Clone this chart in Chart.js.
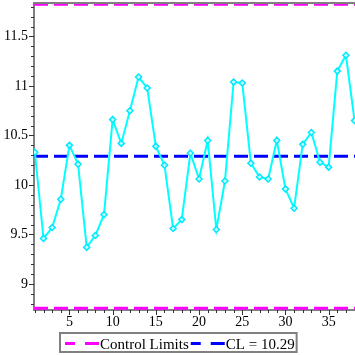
<!DOCTYPE html>
<html lang="en">
<head>
<meta charset="UTF-8">
<title>Control Chart</title>
<script src="https://cdn.jsdelivr.net/npm/chart.js"></script>
<style>
  html, body { margin: 0; padding: 0; background: #fff; }
</style>
</head>
<body>
<canvas id="chart" width="355" height="355"></canvas>
<script>
// sample number and measured value
const samples = [1, 2, 3, 4, 5, 6, 7, 8, 9, 10, 11, 12, 13, 14, 15, 16, 17, 18, 19, 20,
                 21, 22, 23, 24, 25, 26, 27, 28, 29, 30, 31, 32, 33, 34, 35, 36, 37, 38];
const values = [10.33, 9.46, 9.57, 9.855, 10.40, 10.21, 9.37, 9.49, 9.70, 10.66,
                10.42, 10.75, 11.09, 10.98, 10.39, 10.20, 9.56, 9.65, 10.32, 10.06,
                10.45, 9.55, 10.04, 11.04, 11.03, 10.22, 10.08, 10.06, 10.45, 9.96,
                9.765, 10.41, 10.53, 10.23, 10.18, 11.15, 11.31, 10.65];
const centerLine = 10.29;
const upperLimit = 11.825;
const lowerLimit = 8.755;
const yTicks = [9, 9.5, 10, 10.5, 11, 11.5];
const xTicks = [5, 10, 15, 20, 25, 30, 35];
const legendLabels = ['Control Limits', 'CL = 10.29'];

const X_MIN = 0.9, X_MAX = 38.05;
const Y_MIN = 8.737, Y_MAX = 11.838;
const FONT = '"Liberation Serif", "Times New Roman", serif';

function hline(v) {
  return [{ x: X_MIN, y: v }, { x: X_MAX, y: v }];
}

// no automatic label padding, the plot area is fixed
function noPad(s) {
  s.paddingTop = 0; s.paddingBottom = 0; s.paddingLeft = 0; s.paddingRight = 0;
}

// frame, minor ticks and the boxed legend (Maple style)
const frame = {
  id: 'frame',
  afterDraw(chart) {
    const { ctx, chartArea: a, scales: { x, y } } = chart;
    ctx.save();
    ctx.strokeStyle = '#808080';
    ctx.lineWidth = 2;
    ctx.beginPath();
    ctx.moveTo(a.left - 1, a.top);
    ctx.lineTo(a.right, a.top);
    ctx.stroke();

    ctx.strokeStyle = '#333';
    ctx.lineWidth = 1;
    ctx.beginPath();
    for (let i = 88; i <= 118; i++) {
      const py = Math.round(y.getPixelForValue(i / 10)) + 0.5;
      const len = i % 5 === 0 ? 5 : 3;
      ctx.moveTo(a.left - len, py);
      ctx.lineTo(a.left, py);
    }
    for (let i = 1; i <= 38; i++) {
      const px = Math.round(x.getPixelForValue(i)) + 0.5;
      const len = i % 5 === 0 ? 5 : 3;
      ctx.moveTo(px, a.bottom);
      ctx.lineTo(px, a.bottom + len);
    }
    ctx.stroke();

    // legend
    ctx.font = '15px ' + FONT;
    const w1 = ctx.measureText(legendLabels[0]).width;
    const w2 = ctx.measureText(legendLabels[1]).width;
    const seg = 34;
    const total = 5 + seg + 1 + w1 + 2 + seg + 1 + w2 + 2;
    const lx = Math.round(178 - total / 2);
    const top = 333, h = 19, my = 343.5;
    ctx.strokeStyle = '#808080';
    ctx.lineWidth = 2;
    ctx.strokeRect(lx, top, total, h);

    ctx.lineWidth = 3;
    ctx.setLineDash([10, 10, 20]);
    let cx = lx + 5;
    ctx.strokeStyle = '#FF00FF';
    ctx.beginPath(); ctx.moveTo(cx, my); ctx.lineTo(cx + seg, my); ctx.stroke();
    cx += seg + 1;
    ctx.setLineDash([]);
    ctx.fillStyle = '#000';
    ctx.textBaseline = 'alphabetic';
    ctx.fillText(legendLabels[0], cx, 348.5);
    cx += w1 + 2;
    ctx.setLineDash([10, 10, 20]);
    ctx.strokeStyle = '#0000FF';
    ctx.beginPath(); ctx.moveTo(cx, my); ctx.lineTo(cx + seg, my); ctx.stroke();
    cx += seg + 1;
    ctx.setLineDash([]);
    ctx.fillText(legendLabels[1], cx, 348.5);
    ctx.restore();
  }
};

new Chart(document.getElementById('chart'), {
  type: 'line',
  data: {
    datasets: [
      {
        data: samples.map((s, i) => ({ x: s, y: values[i] })),
        borderColor: '#00FFFF',
        borderWidth: 2,
        pointStyle: 'rectRot',
        pointRadius: 3,
        pointBorderWidth: 1.5,
        pointBorderColor: '#00E8FF',
        pointBackgroundColor: '#C8FFFF',
        tension: 0
      },
      {
        data: hline(upperLimit),
        borderColor: '#FF00FF',
        borderWidth: 3,
        borderDash: [14, 6],
        pointRadius: 0
      },
      {
        data: hline(lowerLimit),
        borderColor: '#FF00FF',
        borderWidth: 3,
        borderDash: [14, 6],
        pointRadius: 0
      },
      {
        data: hline(centerLine),
        borderColor: '#0000FF',
        borderWidth: 3,
        borderDash: [14, 6],
        pointRadius: 0
      }
    ]
  },
  options: {
    responsive: false,
    animation: false,
    layout: { autoPadding: false, padding: { top: 3, left: 0, right: 0, bottom: 0 } },
    plugins: { legend: { display: false }, tooltip: { enabled: false } },
    scales: {
      x: {
        type: 'linear',
        min: X_MIN,
        max: X_MAX,
        afterBuildTicks: s => { s.ticks = xTicks.map(v => ({ value: v })); },
        afterFit: s => { s.height = 45; noPad(s); },
        grid: { display: false, drawTicks: false },
        border: { display: true, color: '#808080', width: 2 },
        ticks: {
          color: '#000',
          padding: 4,
          maxRotation: 0,
          font: { family: FONT, size: 14 },
          callback: v => String(v)
        }
      },
      y: {
        min: Y_MIN,
        max: Y_MAX,
        afterBuildTicks: s => { s.ticks = yTicks.map(v => ({ value: v })); },
        afterFit: s => { s.width = 34; noPad(s); },
        grid: { display: false, drawTicks: false },
        border: { display: true, color: '#808080', width: 2 },
        ticks: {
          color: '#000',
          padding: 6,
          font: { family: FONT, size: 14 },
          callback: v => String(v)
        }
      }
    }
  },
  plugins: [frame]
});
</script>
</body>
</html>
